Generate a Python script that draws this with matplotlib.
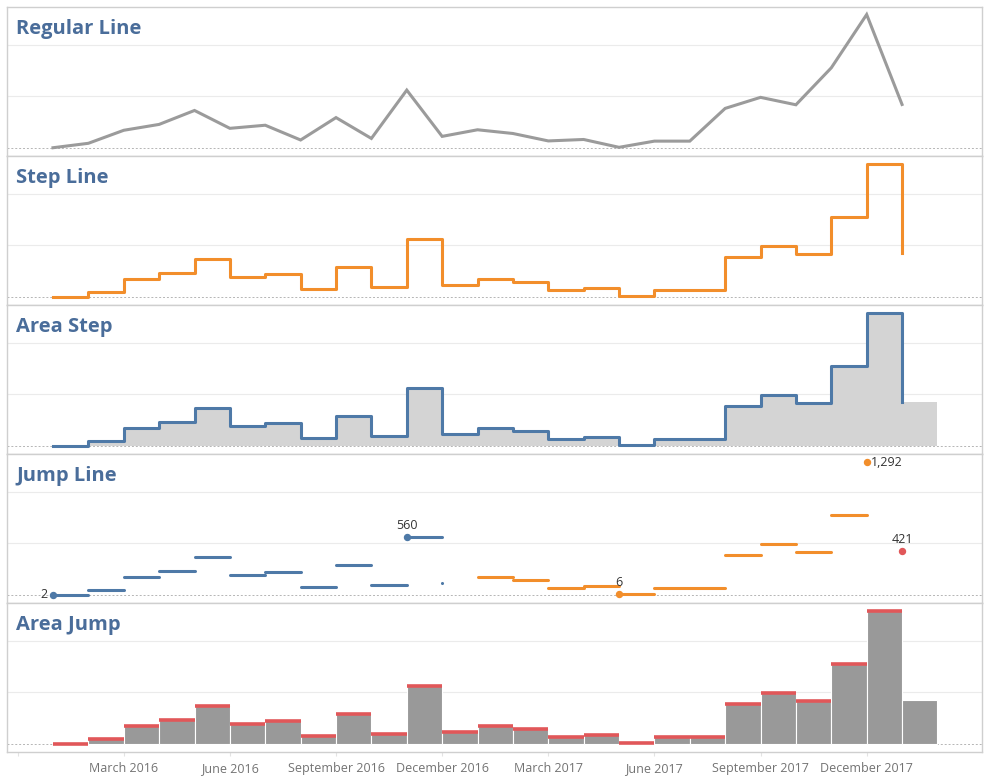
import matplotlib
matplotlib.use("Agg")
import matplotlib.pyplot as plt
import numpy as np

# monthly values, January 2016 .. January 2018
months = ["2016-01", "2016-02", "2016-03", "2016-04", "2016-05", "2016-06",
          "2016-07", "2016-08", "2016-09", "2016-10", "2016-11", "2016-12",
          "2017-01", "2017-02", "2017-03", "2017-04", "2017-05", "2017-06",
          "2017-07", "2017-08", "2017-09", "2017-10", "2017-11", "2017-12",
          "2018-01"]
values = [2, 45, 171, 228, 363, 190, 220, 77, 294, 92, 560, 112,
          176, 140, 68, 82, 6, 66, 66, 383, 490, 418, 776, 1292, 421]
years = [int(m[:4]) for m in months]

tick_pos = [-1, 2, 5, 8, 11, 14, 17, 20, 23]
tick_labels = ["", "March 2016", "June 2016", "September 2016", "December 2016",
               "March 2017", "June 2017", "September 2017", "December 2017"]

titles = ["Regular Line", "Step Line", "Area Step", "Jump Line", "Area Jump"]

year_colors = {2016: "#4e79a7", 2017: "#f28e2b", 2018: "#e15759"}
title_color = "#4a6d9a"
border = "#cfcfcf"

plt.rcParams["font.family"] = ["Open Sans", "DejaVu Sans"]

x = np.arange(len(values))
v = np.array(values)
x_ext = np.append(x, len(values))
v_ext = np.append(v, v[-1])

fig = plt.figure(figsize=(9.9, 7.83), dpi=100)
W, H = 990, 783
left_px, right_px = 7, 982
tops = [7, 156, 305, 454, 603]
ph = 149

axes = []
for top in tops:
    ax = fig.add_axes([left_px / W, 1 - (top + ph) / H, (right_px - left_px) / W, ph / H])
    ax.set_xlim(-1.3, 26.26)
    ax.set_ylim(-78, 1365)
    for s in ax.spines.values():
        s.set_color(border)
        s.set_linewidth(1)
    ax.set_yticks([])
    ax.set_xticks([])
    for g in (500, 1000):
        ax.axhline(g, color="#ebebeb", lw=0.8, zorder=0)
    ax.axhline(0, color="#b5b5b5", lw=0.7, ls=(0, (2, 2)), zorder=0)
    axes.append(ax)

for ax, t in zip(axes, titles):
    ax.text(9 / 975, 1 - 22 / ph, t, transform=ax.transAxes, ha="left", va="center",
            fontsize=14.5, fontweight="bold", color=title_color)

# regular line
axes[0].plot(x, v, color="#9b9b9b", lw=2.2, solid_joinstyle="miter", zorder=3)

# step line
axes[1].step(x, v, where="post", color="#f28e2b", lw=2.2, zorder=3)

# area step
axes[2].fill_between(x_ext, v_ext, step="post", color="#d4d4d4", lw=0, zorder=2)
axes[2].step(x, v, where="post", color="#4e79a7", lw=2.2, zorder=3)

# jump line
ax = axes[3]
for i in range(len(values)):
    c = year_colors[years[i]]
    if i + 1 < len(values) and years[i + 1] == years[i]:
        ax.plot([x[i], x[i + 1]], [v[i], v[i]], color=c, lw=2.2,
                solid_capstyle="round", zorder=3)
    else:
        ax.plot([x[i]], [v[i]], "o", color=c, ms=1.2, zorder=3)

# labels at min / max of each year
label_place = {0: "left", 10: "above", 16: "above", 23: "right", 24: "above"}
for i, place in label_place.items():
    c = year_colors[years[i]]
    ax.plot([x[i]], [v[i]], "o", color=c, ms=4.3, zorder=4)
    txt = f"{values[i]:,}"
    if place == "left":
        ax.annotate(txt, (x[i], v[i]), xytext=(-5, 0), textcoords="offset pixels",
                    ha="right", va="center", fontsize=9, color="#333333")
    elif place == "right":
        ax.annotate(txt, (x[i], v[i]), xytext=(4, -1), textcoords="offset pixels",
                    ha="left", va="center", fontsize=9, color="#333333")
    else:
        ax.annotate(txt, (x[i], v[i]), xytext=(0, 12), textcoords="offset pixels",
                    ha="center", va="center", fontsize=9, color="#333333")

# area jump
ax = axes[4]
ax.bar(x, v, width=1, align="edge", color="#999999", edgecolor="white", lw=0.8, zorder=2)
for i in range(len(values) - 1):
    ax.plot([x[i], x[i] + 1], [v[i], v[i]], color="#e15759", lw=2.6,
            solid_capstyle="butt", zorder=3)

ax.set_xticks(tick_pos)
ax.set_xticklabels(tick_labels, fontsize=9, color="#737373")
ax.tick_params(axis="x", length=3, color="#e3e3e3", pad=4)

fig.savefig("out.png", dpi=100)
